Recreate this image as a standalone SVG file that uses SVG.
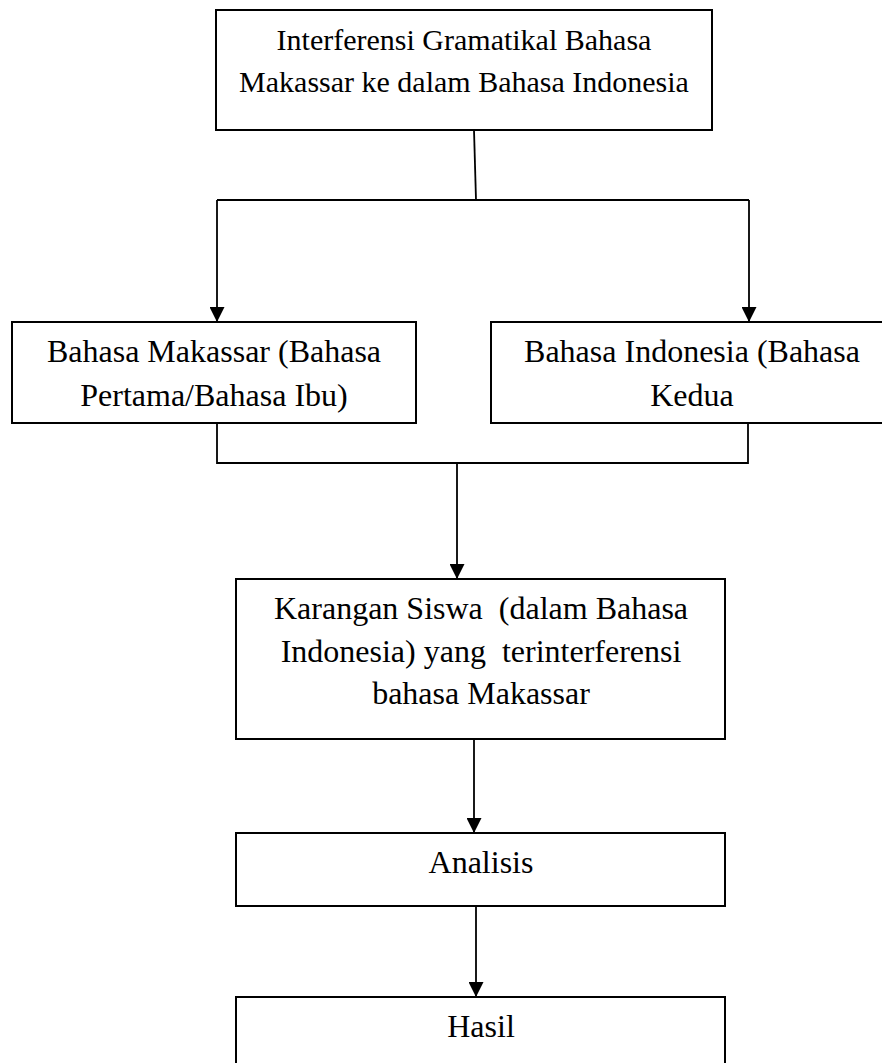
<svg xmlns="http://www.w3.org/2000/svg" width="882" height="1063" viewBox="0 0 882 1063">
<defs>
<style>
.box{fill:#fff;stroke:#000;stroke-width:2}
.t{font-family:"Liberation Serif","Times New Roman",serif;font-size:32px;fill:#000;text-anchor:middle;white-space:pre}
.t30{font-size:30px}
.c{fill:none;stroke:#000;stroke-width:1.8}
</style>
<marker id="ah" markerUnits="userSpaceOnUse" markerWidth="15" markerHeight="15" refX="15" refY="7.5" orient="auto">
<path d="M0,0 L15,7.5 L0,15 z" fill="#000"/>
</marker>
</defs>
<rect width="882" height="1063" fill="#fff"/>
<g id="connectors">
<path class="c" d="M474,130 L476,200"/>
<path class="c" d="M217,200 L749,200"/>
<path class="c" d="M217,200 L217,322" marker-end="url(#ah)"/>
<path class="c" d="M749,200 L749,322" marker-end="url(#ah)"/>
<path class="c" d="M217,423 L217,463 L748,463 L748,423"/>
<path class="c" d="M457,463 L457,579" marker-end="url(#ah)"/>
<path class="c" d="M474,739 L474,833" marker-end="url(#ah)"/>
<path class="c" d="M476,906 L476,997" marker-end="url(#ah)"/>
</g>
<g id="n1">
<rect class="box" x="216" y="10" width="496" height="120"/>
<text class="t t30" x="464" y="50">Interferensi Gramatikal Bahasa</text>
<text class="t t30" x="464" y="92">Makassar ke dalam Bahasa Indonesia</text>
</g>
<g id="n2">
<rect class="box" x="12" y="322" width="404" height="101"/>
<text class="t" x="214" y="362">Bahasa Makassar (Bahasa</text>
<text class="t" x="214" y="406">Pertama/Bahasa Ibu)</text>
</g>
<g id="n3">
<rect class="box" x="491" y="322" width="402" height="101"/>
<text class="t" x="692" y="362">Bahasa Indonesia (Bahasa</text>
<text class="t" x="692" y="406">Kedua</text>
</g>
<g id="n4">
<rect class="box" x="236" y="579" width="489" height="160"/>
<text class="t" x="481" y="619">Karangan Siswa  (dalam Bahasa</text>
<text class="t" x="481" y="662">Indonesia) yang  terinterferensi</text>
<text class="t" x="481" y="704">bahasa Makassar</text>
</g>
<g id="n5">
<rect class="box" x="236" y="833" width="489" height="73"/>
<text class="t" x="481" y="873">Analisis</text>
</g>
<g id="n6">
<rect class="box" x="236" y="997" width="489" height="80"/>
<text class="t" x="481" y="1037">Hasil</text>
</g>
</svg>
